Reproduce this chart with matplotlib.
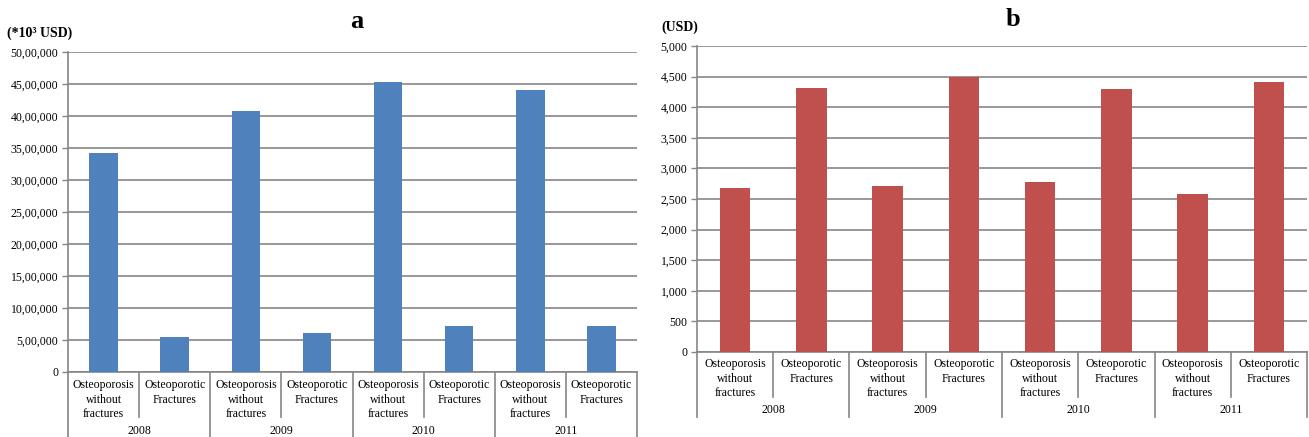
import matplotlib
matplotlib.use('Agg')
import matplotlib.pyplot as plt
import matplotlib.transforms as mtransforms

plt.rcParams['font.family'] = ['Liberation Serif', 'DejaVu Serif']

# data
years = ['2008', '2009', '2010', '2011']
groups = ['Osteoporosis\nwithout\nfractures', 'Osteoporotic\nFractures']
total_cost = [3427000, 547000, 4083000, 604000, 4526000, 718000, 4406000, 722000]  # *10^3 USD
per_patient = [2675, 4317, 2708, 4489, 2779, 4295, 2582, 4410]  # USD

ticks_a = [0, 500000, 1000000, 1500000, 2000000, 2500000, 3000000, 3500000, 4000000, 4500000, 5000000]
ticklabels_a = ['0', '5,00,000', '10,00,000', '15,00,000', '20,00,000', '25,00,000',
                '30,00,000', '35,00,000', '40,00,000', '45,00,000', '50,00,000']
ticks_b = [0, 500, 1000, 1500, 2000, 2500, 3000, 3500, 4000, 4500, 5000]
ticklabels_b = ['0', '500', '1,000', '1,500', '2,000', '2,500', '3,000', '3,500', '4,000', '4,500', '5,000']

W, H = 1309, 437
fig = plt.figure(figsize=(W / 100, H / 100), dpi=100)
grid_c = '#868686'


def draw_panel(rect, values, color, ticks, ticklabels, y_mid, y_bot, y_cat, y_year):
    ax = fig.add_axes(rect)
    x = range(len(values))
    ax.bar(x, values, width=0.4, color=color, zorder=3)
    ax.set_xlim(-0.5, len(values) - 0.5)
    ax.set_ylim(ticks[0], ticks[-1])
    ax.set_yticks(ticks)
    ax.set_yticklabels(ticklabels, fontsize=8.5)
    ax.yaxis.grid(True, color=grid_c, linewidth=1.2, zorder=0)
    ax.tick_params(axis='y', length=4, color=grid_c, width=1, pad=3)
    ax.set_xticks([])
    for s in ['top', 'right']:
        ax.spines[s].set_visible(False)
    ax.spines['left'].set_color(grid_c)
    ax.spines['bottom'].set_color(grid_c)
    ax.spines['left'].set_linewidth(1.2)
    ax.spines['bottom'].set_linewidth(1.2)

    # two-level category axis drawn like a table under the plot
    trans = mtransforms.blended_transform_factory(ax.transData, ax.transAxes)
    for i in range(len(values) + 1):
        xb = i - 0.5
        yend = y_bot if i % 2 == 0 else y_mid
        ax.plot([xb, xb], [0, yend], color=grid_c, lw=1.2, transform=trans, clip_on=False)
    for i in range(len(values)):
        ax.text(i, y_cat, groups[i % 2], transform=trans, ha='center', va='top',
                fontsize=8.5, linespacing=1.3)
    for j, yr in enumerate(years):
        ax.text(2 * j + 0.5, y_year, yr, transform=trans, ha='center', va='center', fontsize=8.5)
    return ax


# panel a
ax1 = draw_panel([68 / W, 1 - 372 / H, (637 - 68) / W, 320 / H], total_cost, '#4F81BD',
                 ticks_a, ticklabels_a, -45 / 320, -65 / 320, -7 / 320, -59 / 320)
# panel b
ax2 = draw_panel([697 / W, 1 - 352 / H, (1307 - 697) / W, 306 / H], per_patient, '#C0504D',
                 ticks_b, ticklabels_b, -45 / 306, -65 / 306, -6 / 306, -58 / 306)

fig.text(357 / W, 1 - 21 / H, 'a', fontsize=19, fontweight='bold', ha='center', va='center')
fig.text(1013 / W, 1 - 19 / H, 'b', fontsize=19, fontweight='bold', ha='center', va='center')
fig.text(7 / W, 1 - 33 / H, '(*10³ USD)', fontsize=10, fontweight='bold', ha='left', va='center')
fig.text(661 / W, 1 - 27 / H, '(USD)', fontsize=10, fontweight='bold', ha='left', va='center')

fig.savefig('out.png', dpi=100)
